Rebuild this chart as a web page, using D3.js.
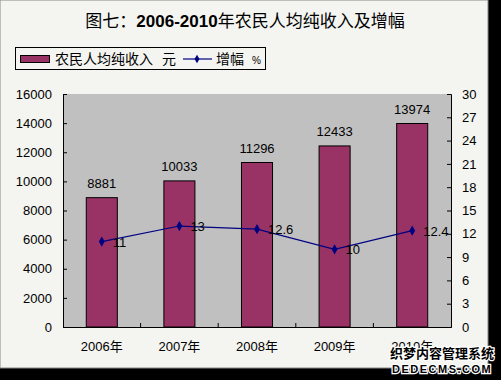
<!DOCTYPE html>
<html lang="zh">
  <head>
    <meta charset="UTF-8">
    <title>图七：2006-2010年农民人均纯收入及增幅</title>
    <style>
      body { margin: 0; background: #000; }
      svg text { font-family: Arial, "Liberation Sans", "Noto Sans CJK SC", sans-serif; fill: #000; white-space: pre; }
      .axis text { font-size: 13px; }
    </style>
    <script src="https://d3js.org/d3.v7.min.js"></script>
  </head>
  <body>
    <script>
      // values
      const years = ["2006年", "2007年", "2008年", "2009年", "2010年"];
      const income = [8881, 10033, 11296, 12433, 13974];
      const growth = [11, 13, 12.6, 10, 12.4];
      const incomeTicks = [0, 2000, 4000, 6000, 8000, 10000, 12000, 14000, 16000];
      const growthTicks = [0, 3, 6, 9, 12, 15, 18, 21, 24, 27, 30];

      const W = 501, H = 380;
      const plot = { left: 63, right: 451, top: 94, bottom: 327 };

      const svg = d3.select("body").append("svg")
        .attr("width", W)
        .attr("height", H)
        .style("display", "block");

      // black frame on right and bottom, light page
      svg.append("rect").attr("width", W).attr("height", H).attr("fill", "#000");
      svg.append("rect").attr("x", 0).attr("y", 0).attr("width", 488).attr("height", 368)
        .attr("fill", "#f4f4f0").attr("stroke", "#888").attr("stroke-width", 1);

      // title
      const title = svg.append("text")
        .attr("x", 245).attr("y", 27)
        .attr("text-anchor", "middle")
        .style("font-size", "17px");
      title.append("tspan").text("图七：");
      title.append("tspan").style("font-weight", "bold").text("2006-2010");
      title.append("tspan").text("年农民人均纯收入及增幅");

      // legend
      const lg = svg.append("g");
      lg.append("rect").attr("x", 15.5).attr("y", 47.5).attr("width", 250).attr("height", 22)
        .attr("fill", "#f4f4f0").attr("stroke", "#000");
      lg.append("rect").attr("x", 20.5).attr("y", 55.5).attr("width", 29).attr("height", 7)
        .attr("fill", "#993366").attr("stroke", "#000");
      lg.append("text").attr("x", 55).attr("y", 64).style("font-size", "14px").text("农民人均纯收入");
      lg.append("text").attr("x", 162).attr("y", 64).style("font-size", "14px").text("元");
      lg.append("line").attr("x1", 183).attr("x2", 212).attr("y1", 59).attr("y2", 59)
        .attr("stroke", "#000080").attr("stroke-width", 1.2);
      lg.append("path").attr("d", d3.symbol(d3.symbolDiamond, 22)()).attr("transform", "translate(197,59)")
        .attr("fill", "#000080");
      lg.append("text").attr("x", 216).attr("y", 64).style("font-size", "14px").text("增幅");
      lg.append("text").attr("x", 252).attr("y", 64).style("font-size", "10px").text("%");

      // scales
      const x = d3.scaleBand().domain(years).range([plot.left, plot.right]);
      const yL = d3.scaleLinear().domain([0, 16000]).range([plot.bottom, plot.top]);
      const yR = d3.scaleLinear().domain([0, 30]).range([plot.bottom, plot.top]);

      // plot area
      svg.append("rect")
        .attr("x", plot.left).attr("y", plot.top)
        .attr("width", plot.right - plot.left).attr("height", plot.bottom - plot.top)
        .attr("fill", "#c0c0c0");

      // axes
      const axL = svg.append("g").attr("class", "axis")
        .attr("transform", `translate(${plot.left},0)`)
        .call(d3.axisLeft(yL).tickValues(incomeTicks).tickFormat(d3.format("d")).tickSize(-4).tickPadding(11));
      const axR = svg.append("g").attr("class", "axis")
        .attr("transform", `translate(${plot.right},0)`)
        .call(d3.axisRight(yR).tickValues(growthTicks).tickFormat(d3.format("d")).tickSize(-4).tickPadding(11));
      const axB = svg.append("g").attr("class", "axis")
        .attr("transform", `translate(0,${plot.bottom})`)
        .call(d3.axisBottom(x).tickSize(0).tickPadding(15));
      [axL, axR, axB].forEach(a => {
        a.select(".domain").attr("stroke", "#000");
        a.selectAll("text").attr("fill", "#000").style("font-size", "13px");
      });
      // category separator ticks on the bottom axis
      svg.append("g").selectAll("line")
        .data(years.slice(1))
        .join("line")
        .attr("x1", d => x(d)).attr("x2", d => x(d))
        .attr("y1", plot.bottom).attr("y2", plot.bottom - 4)
        .attr("stroke", "#000");

      // bars
      const bw = x.bandwidth() * 0.4;
      svg.append("g").selectAll("rect")
        .data(income)
        .join("rect")
        .attr("x", (d, i) => x(years[i]) + x.bandwidth() / 2 - bw / 2)
        .attr("y", d => yL(d))
        .attr("width", bw)
        .attr("height", d => yL(0) - yL(d))
        .attr("fill", "#993366")
        .attr("stroke", "#000");

      svg.append("g").selectAll("text")
        .data(income)
        .join("text")
        .attr("x", (d, i) => x(years[i]) + x.bandwidth() / 2)
        .attr("y", d => yL(d) - 10)
        .attr("text-anchor", "middle")
        .style("font-size", "13px")
        .text(d => d);

      // growth line
      const cx = (d, i) => x(years[i]) + x.bandwidth() / 2;
      svg.append("path")
        .datum(growth)
        .attr("fill", "none")
        .attr("stroke", "#000080")
        .attr("stroke-width", 1.2)
        .attr("d", d3.line().x(cx).y(d => yR(d)));

      svg.append("g").selectAll("path")
        .data(growth)
        .join("path")
        .attr("d", d3.symbol(d3.symbolDiamond, 30)())
        .attr("transform", (d, i) => `translate(${cx(d, i)},${yR(d)})`)
        .attr("fill", "#000080");

      svg.append("g").selectAll("text")
        .data(growth)
        .join("text")
        .attr("x", (d, i) => cx(d, i) + 11)
        .attr("y", d => yR(d) + 5)
        .style("font-size", "13px")
        .text(d => d);

      // watermark in the corner
      const wm = svg.append("g").style("font-weight", "bold");
      wm.append("text").attr("x", 390).attr("y", 358)
        .style("font-size", "13px").attr("fill", "#333")
        .attr("stroke", "#fff").attr("stroke-width", 2.5).attr("paint-order", "stroke")
        .text("织梦内容管理系统");
      wm.append("text").attr("x", 392).attr("y", 373)
        .style("font-size", "11px").style("letter-spacing", "1.5px").attr("fill", "#333")
        .attr("stroke", "#fff").attr("stroke-width", 2.5).attr("paint-order", "stroke")
        .text("DEDECMS.COM");
    </script>
  </body>
</html>
